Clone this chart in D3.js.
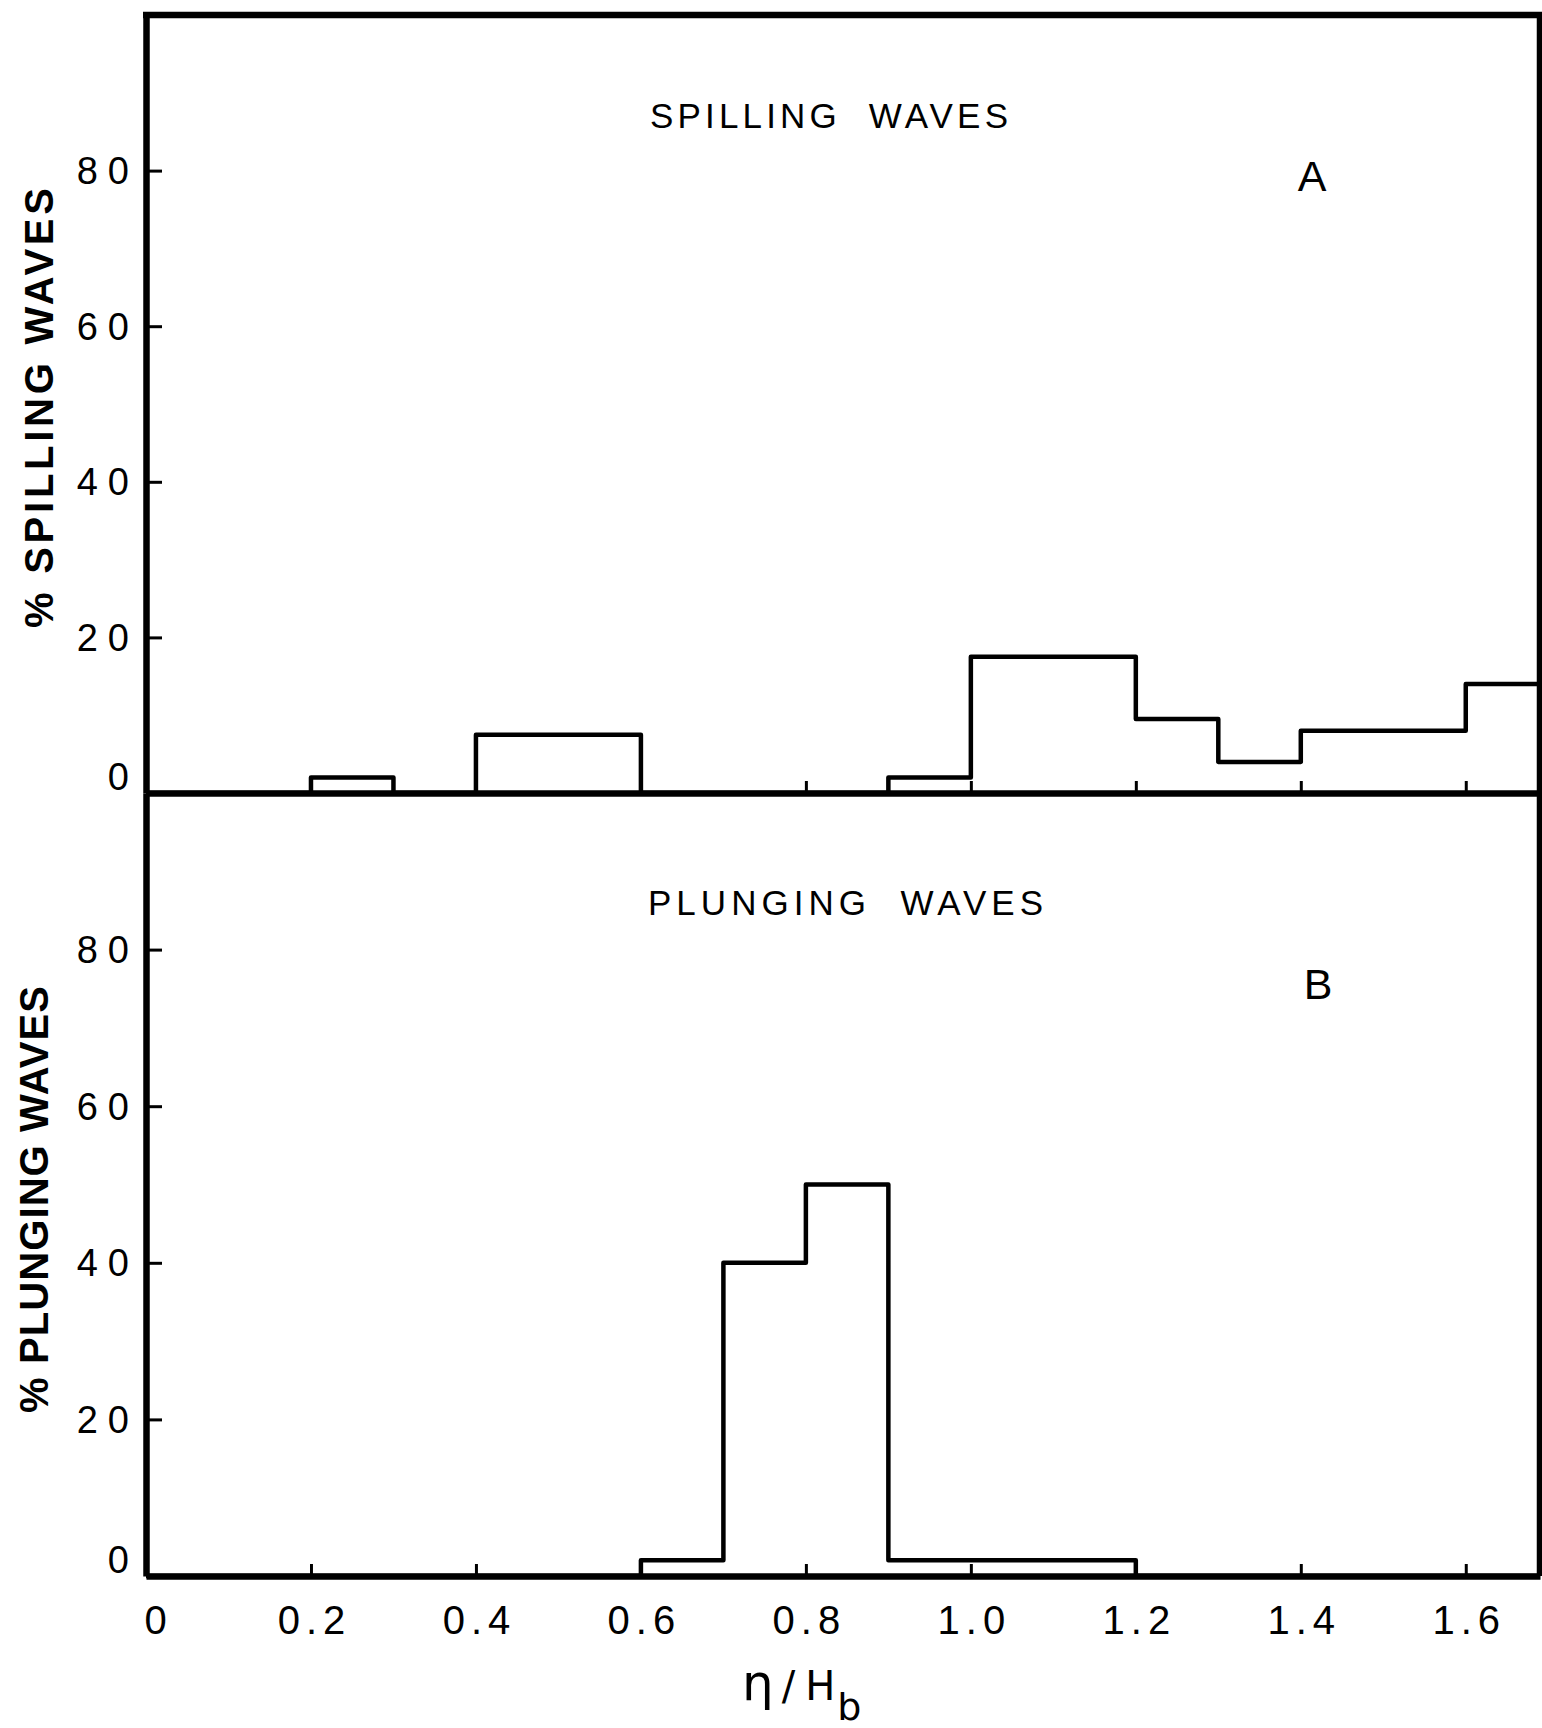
<!DOCTYPE html>
<html>
<head>
<meta charset="utf-8">
<script src="https://cdn.jsdelivr.net/npm/d3@7"></script>
<style>
  html, body { margin: 0; padding: 0; background: #fff; }
  svg { display: block; }
  text { fill: #000; }
</style>
</head>
<body>
<svg id="chart" width="1542" height="1728"></svg>
<script>
// ---- data ----
const binStarts = [0.0,0.1,0.2,0.3,0.4,0.5,0.6,0.7,0.8,0.9,1.0,1.1,1.2,1.3,1.4,1.5,1.6];
const binWidth = 0.1;
const spillingPct = [0,0,2,0,7.5,7.5,0,0,0,2,17.5,17.5,9.5,4,8,8,14];
const plungingPct = [0,0,0,0,0,0,2,40,50,2,2,2,0,0,0,0,0];
const xTickValues = [0,0.2,0.4,0.6,0.8,1.0,1.2,1.4,1.6];
const xTickLabels = ["0","0.2","0.4","0.6","0.8","1.0","1.2","1.4","1.6"];
const yTickValues = [0,20,40,60,80];
const yTickLabels = ["0","20","40","60","80"];
const panelTitles = ["SPILLING  WAVES","PLUNGING  WAVES"];
const panelLetters = ["A","B"];
const yAxisTitles = ["% SPILLING WAVES","% PLUNGING WAVES"];

// ---- scales ----
const svg = d3.select("#chart");
const xMaxDomain = 1.69;
const x = d3.scaleLinear().domain([0, xMaxDomain]).range([146, 1540]);
const yTop = d3.scaleLinear().domain([0, 100]).range([793, 15]);
const yBot = d3.scaleLinear().domain([0, 100]).range([1576, 793]);

const FONT = "'Liberation Sans', Arial, sans-serif";

function drawPanel(y, values, idx, showXLabels) {
  const g = svg.append("g");

  // histogram outline (step)
  const pts = [[0, 0]];
  binStarts.forEach((s, i) => {
    const e = Math.min(s + binWidth, xMaxDomain);
    pts.push([s, values[i]]);
    pts.push([e, values[i]]);
  });
  pts.push([xMaxDomain, 0]);
  const line = d3.line().x(d => x(d[0])).y(d => y(d[1]));
  g.append("path")
    .attr("d", line(pts))
    .attr("fill", "none")
    .attr("stroke", "#000")
    .attr("stroke-width", 4.5)
    .attr("stroke-linejoin", "round");

  // x axis (ticks inward)
  const xAxis = d3.axisBottom(x)
    .tickValues(xTickValues)
    .tickSizeInner(-12)
    .tickSizeOuter(0)
    .tickPadding(30)
    .tickFormat((d, i) => showXLabels ? xTickLabels[i] : "");
  const gx = g.append("g")
    .attr("transform", `translate(0,${y(0)})`)
    .call(xAxis);
  gx.select(".domain").attr("stroke-width", 6.5).attr("stroke", "#000");
  gx.selectAll(".tick line").attr("stroke-width", 3).attr("stroke", "#000");
  gx.selectAll(".tick text")
    .attr("font-family", FONT)
    .attr("font-size", 40)
    .attr("letter-spacing", "6px")
    .attr("dx", (d, i) => i === 0 ? 12 : 3)
    .attr("fill", "#000");

  // y axis (ticks inward)
  const yAxis = d3.axisLeft(y)
    .tickValues(yTickValues)
    .tickSizeInner(-16)
    .tickSizeOuter(0)
    .tickPadding(7)
    .tickFormat((d, i) => yTickLabels[i]);
  const gy = g.append("g")
    .attr("transform", `translate(${x(0)},0)`)
    .call(yAxis);
  gy.select(".domain").attr("stroke-width", 6.5).attr("stroke", "#000");
  gy.selectAll(".tick line").attr("stroke-width", 3).attr("stroke", "#000");
  gy.selectAll(".tick text")
    .attr("font-family", FONT)
    .attr("font-size", 38)
    .attr("letter-spacing", "10px")
    .attr("dy", (d) => d === 0 ? "-0.1em" : "0.34em")
    .attr("fill", "#000");

  // right border
  g.append("line")
    .attr("x1", x(xMaxDomain)).attr("x2", x(xMaxDomain))
    .attr("y1", y(100)).attr("y2", y(0))
    .attr("stroke", "#000").attr("stroke-width", 6.5);

  // title
  const titleY = idx === 0 ? 128 : 915;
  const titleX0 = idx === 0 ? 650 : 648;
  const titleLen = idx === 0 ? 358 : 395;
  g.append("text")
    .attr("x", titleX0).attr("y", titleY)
    .attr("font-family", FONT)
    .attr("font-size", 35)
    .attr("textLength", titleLen)
    .attr("lengthAdjust", "spacing")
    .style("white-space", "pre")
    .text(panelTitles[idx]);

  // panel letter
  g.append("text")
    .attr("x", idx === 0 ? 1312 : 1318)
    .attr("y", idx === 0 ? 191 : 999)
    .attr("text-anchor", "middle")
    .attr("font-family", FONT)
    .attr("font-size", 43)
    .text(panelLetters[idx]);

  // y axis title (rotated)
  const cx = idx === 0 ? 53 : 48;
  const y0 = idx === 0 ? 628 : 1413;
  const len = idx === 0 ? 440 : 427;
  g.append("text")
    .attr("transform", `translate(${cx},${y0}) rotate(-90)`)
    .attr("x", 0).attr("y", 0)
    .attr("font-family", FONT)
    .attr("font-weight", "bold")
    .attr("font-size", 40)
    .attr("textLength", len)
    .attr("lengthAdjust", "spacing")
    .text(yAxisTitles[idx]);
}

// top border
svg.append("line")
  .attr("x1", x(0) - 3).attr("x2", x(xMaxDomain) + 3)
  .attr("y1", yTop(100)).attr("y2", yTop(100))
  .attr("stroke", "#000").attr("stroke-width", 6.5);

drawPanel(yTop, spillingPct, 0, false);
drawPanel(yBot, plungingPct, 1, true);

// x axis title: eta / H_b
const xt = svg.append("text")
  .attr("x", 742).attr("y", 1700)
  .attr("font-family", "'DejaVu Sans', sans-serif")
  .attr("font-size", 40);
xt.append("tspan").attr("font-size", 50).text("η");
xt.append("tspan").attr("dx", 8).text("/");
xt.append("tspan").attr("dx", 10).text("H");
xt.append("tspan").attr("dx", 2).attr("dy", 20).attr("font-size", 38).text("b");
</script>
</body>
</html>
